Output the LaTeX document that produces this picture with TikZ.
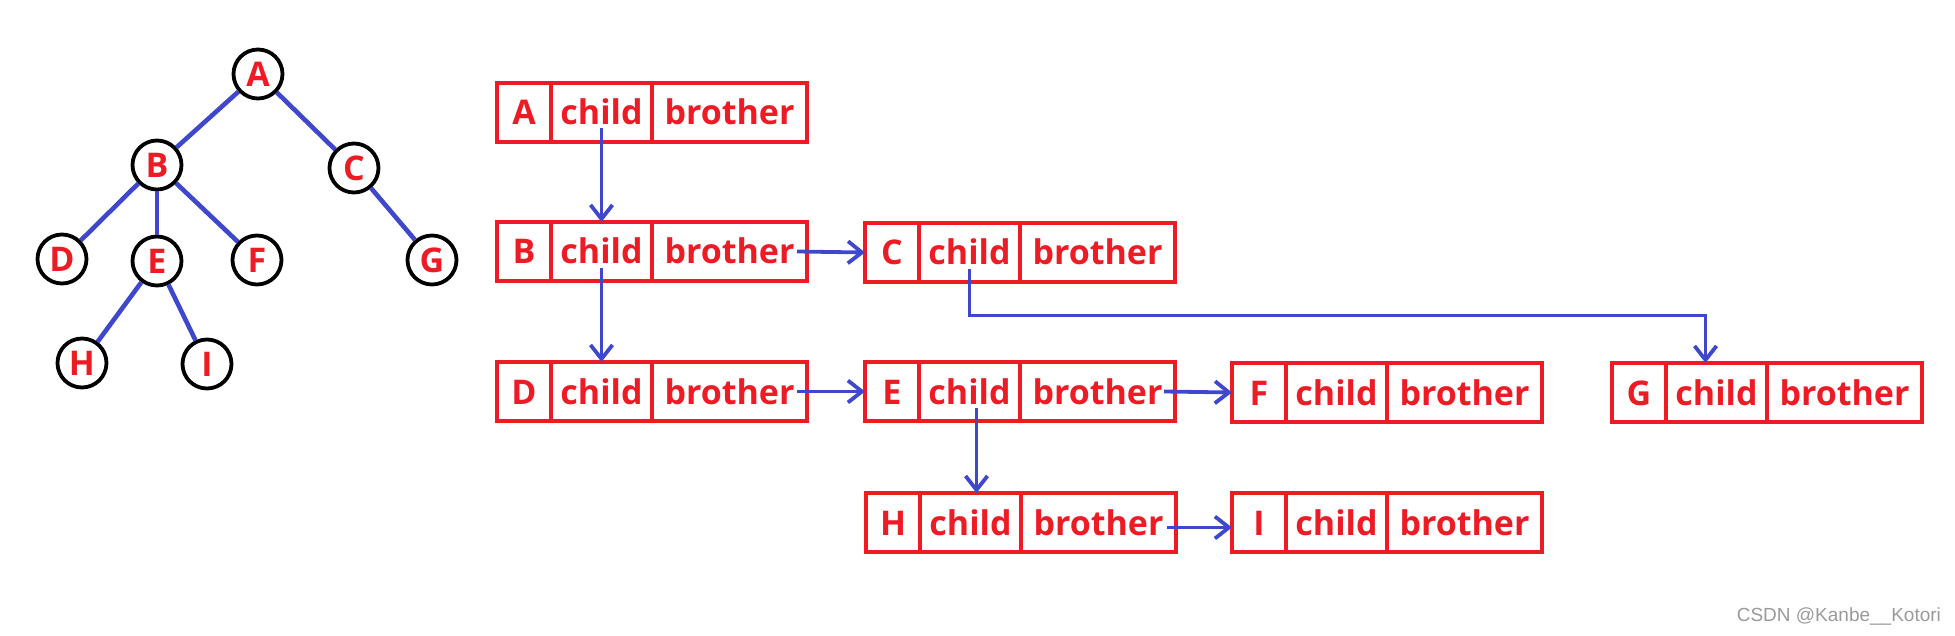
\documentclass[tikz,border=0pt]{standalone}
\usepackage{fontspec}
\setmainfont{Open Sans}
\newfontfamily\creditfont{Liberation Sans}
\usetikzlibrary{positioning,arrows.meta}
\definecolor{treeink}{HTML}{000000}
\definecolor{linkblue}{HTML}{3F48CC}
\definecolor{cellred}{HTML}{ED1C24}
\definecolor{creditgray}{HTML}{9A9A9A}
\tikzset{
  tree node/.style={circle, draw=treeink, line width=1.9pt,
    minimum size=24.5pt, inner sep=0pt, text=cellred,
    font=\bfseries\fontsize{17}{17}\selectfont},
  tree edge/.style={draw=linkblue, line width=2.3pt},
  record cell/.style={rectangle, draw=cellred, line width=1.6pt,
    outer sep=0pt, inner sep=0pt, minimum height=29.5pt,
    text height=12.5pt, text depth=0pt, text=cellred,
    font=\bfseries\fontsize{17}{17}\selectfont},
  key cell/.style={record cell, minimum width=27pt},
  child cell/.style={record cell, minimum width=50.5pt},
  brother cell/.style={record cell, minimum width=77.5pt},
  link arrow/.style={draw=linkblue, line width=1.9pt,
    -{Straight Barb[length=7pt,width=11pt]}},
  credit label/.style={font=\creditfont\fontsize{9.5}{10}\selectfont,
    text=creditgray},
}

\begin{document}
\begin{tikzpicture}[x=0.5pt, y=-0.5pt]
  \useasboundingbox (0,0) rectangle (1955,636);

  % The tree itself.
  \node[tree node] (tA) at (258,74) {A};
  \node[tree node] (tB) at (157,165) {B};
  \node[tree node] (tC) at (354,168) {C};
  \node[tree node] (tD) at (62,259) {D};
  \node[tree node] (tE) at (157,261) {E};
  \node[tree node] (tF) at (257,260) {F};
  \node[tree node] (tG) at (432,260) {G};
  \node[tree node] (tH) at (82,363) {H};
  \node[tree node] (tI) at (207,364) {I};
  \draw[tree edge] (tA) -- (tB);
  \draw[tree edge] (tA) -- (tC);
  \draw[tree edge] (tB) -- (tD);
  \draw[tree edge] (tB) -- (tE);
  \draw[tree edge] (tB) -- (tF);
  \draw[tree edge] (tC) -- (tG);
  \draw[tree edge] (tE) -- (tH);
  \draw[tree edge] (tE) -- (tI);

  % Child-brother records.
  \node[key cell, anchor=north west] (Akey) at (497,83) {A};
  \node[child cell, right=0pt of Akey] (Achild) {child};
  \node[brother cell, right=0pt of Achild] (Abro) {brother};

  \node[key cell, anchor=north west] (Bkey) at (497,222) {B};
  \node[child cell, right=0pt of Bkey] (Bchild) {child};
  \node[brother cell, right=0pt of Bchild] (Bbro) {brother};

  \node[key cell, anchor=north west] (Ckey) at (865,223) {C};
  \node[child cell, right=0pt of Ckey] (Cchild) {child};
  \node[brother cell, right=0pt of Cchild] (Cbro) {brother};

  \node[key cell, anchor=north west] (Dkey) at (497,362) {D};
  \node[child cell, right=0pt of Dkey] (Dchild) {child};
  \node[brother cell, right=0pt of Dchild] (Dbro) {brother};

  \node[key cell, anchor=north west] (Ekey) at (865,362) {E};
  \node[child cell, right=0pt of Ekey] (Echild) {child};
  \node[brother cell, right=0pt of Echild] (Ebro) {brother};

  \node[key cell, anchor=north west] (Fkey) at (1232,363) {F};
  \node[child cell, right=0pt of Fkey] (Fchild) {child};
  \node[brother cell, right=0pt of Fchild] (Fbro) {brother};

  \node[key cell, anchor=north west] (Gkey) at (1612,363) {G};
  \node[child cell, right=0pt of Gkey] (Gchild) {child};
  \node[brother cell, right=0pt of Gchild] (Gbro) {brother};

  \node[key cell, anchor=north west] (Hkey) at (866,493) {H};
  \node[child cell, right=0pt of Hkey] (Hchild) {child};
  \node[brother cell, right=0pt of Hchild] (Hbro) {brother};

  \node[key cell, anchor=north west] (Ikey) at (1232,493) {I};
  \node[child cell, right=0pt of Ikey] (Ichild) {child};
  \node[brother cell, right=0pt of Ichild] (Ibro) {brother};

  % Child pointers go down, brother pointers go right.
  \draw[link arrow] ([yshift=-8pt]Achild.center) -- (Bchild.north);
  \draw[link arrow] ([yshift=-8.5pt]Bchild.center) -- (Dchild.north);
  \draw[link arrow] ([xshift=-5pt]Bbro.east) -- (Ckey.west);
  \draw[link arrow] ([yshift=-8.5pt]Cchild.center) -- ++(0,-23pt)
    -| ([xshift=-5.5pt]Gchild.north);
  \draw[link arrow] ([xshift=-5pt]Dbro.east) -- (Ekey.west);
  \draw[link arrow] ([xshift=-5.5pt]Ebro.east) -- (Fkey.west);
  \draw[link arrow] ([xshift=3.5pt,yshift=-8pt]Echild.center)
    -- ([xshift=3pt]Hchild.north);
  \draw[link arrow] ([xshift=-4.5pt,yshift=-2.5pt]Hbro.east)
    -- ([yshift=-2.5pt]Ikey.west);

  \node[credit label, anchor=east] (credit) at (1948,617)
    {CSDN @Kanbe\_\_Kotori};
\end{tikzpicture}
\end{document}
